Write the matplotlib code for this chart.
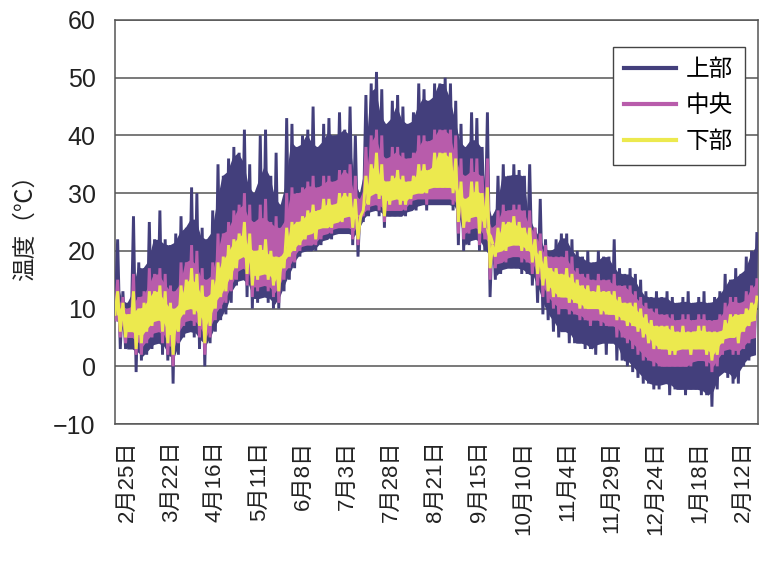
"""
Temperature record (upper / middle / lower), one year, 3-day envelopes
"""
import matplotlib
matplotlib.use('Agg')
import matplotlib.pyplot as plt
import numpy as np

plt.rcParams['font.family'] = ['Liberation Sans', 'Noto Sans CJK JP', 'DejaVu Sans']

# day index of each sample (every 3 days)
days = list(range(0, 366, 3))

# 上部 (upper) daily envelope
upper_hi = [22, 13, 11, 26, 18, 17, 25, 22, 27, 22, 21, 23, 26, 24, 31, 30, 24, 22, 27, 35,
            33, 36, 38, 37, 41, 35, 30, 40, 41, 33, 37, 28, 43, 42, 38, 40, 41, 45, 38, 42,
            43, 40, 44, 41, 45, 40, 30, 47, 49, 51, 48, 42, 46, 47, 45, 42, 44, 49, 48, 46,
            49, 49, 50, 49, 46, 42, 38, 44, 43, 38, 44, 26, 33, 35, 33, 35, 34, 33, 35, 24,
            29, 22, 20, 22, 23, 23, 22, 20, 19, 20, 18, 20, 19, 19, 22, 17, 16, 17, 16, 15,
            13, 12, 13, 12, 13, 12, 11, 12, 13, 11, 12, 13, 11, 12, 13, 16, 15, 17, 16, 19,
            20, 23]
upper_lo = [8, 3, 3, 3, -1, 1, 2, 3, 4, 2, 1, -3, 2, 5, 6, 5, 3, 0, 4, 6,
            8, 9, 11, 14, 15, 12, 10, 11, 12, 11, 10, 10, 13, 15, 17, 19, 20, 20, 20, 21,
            22, 22, 23, 23, 23, 21, 19, 25, 26, 27, 26, 24, 26, 26, 26, 26, 27, 27, 28, 27,
            28, 28, 28, 28, 27, 21, 20, 21, 22, 20, 20, 12, 15, 16, 17, 17, 17, 16, 16, 14,
            11, 9, 8, 6, 5, 6, 4, 4, 4, 3, 3, 2, 4, 2, 4, 1, 1, 0, -1, -2,
            -3, -3, -4, -4, -3, -5, -4, -4, -5, -4, -4, -5, -5, -7, -4, -1, -2, -3, -3, 0,
            1, 2]

# 中央 (middle)
middle_hi = [15, 12, 10, 16, 12, 13, 17, 16, 17, 16, 14, 13, 18, 18, 21, 20, 17, 15, 18, 23,
             23, 25, 27, 28, 30, 28, 25, 28, 29, 25, 26, 24, 30, 31, 30, 31, 32, 33, 31, 33,
             33, 32, 34, 34, 35, 33, 29, 38, 40, 41, 40, 36, 38, 38, 37, 36, 37, 40, 40, 39,
             41, 41, 41, 41, 40, 36, 33, 36, 36, 33, 36, 24, 27, 28, 27, 28, 28, 27, 27, 24,
             23, 21, 19, 19, 19, 20, 19, 17, 16, 16, 15, 16, 15, 15, 16, 14, 14, 14, 13, 12,
             11, 10, 10, 9, 9, 9, 8, 9, 9, 8, 9, 9, 8, 8, 9, 11, 12, 12, 11, 13,
             14, 15]
middle_lo = [8, 5, 4, 5, 2, 2, 4, 5, 6, 4, 2, 0, 4, 7, 8, 7, 5, 2, 5, 8,
             10, 11, 13, 15, 17, 14, 12, 13, 14, 13, 12, 11, 15, 17, 18, 20, 21, 21, 21, 22,
             23, 23, 24, 24, 24, 22, 21, 26, 27, 28, 27, 25, 27, 27, 27, 27, 28, 29, 29, 28,
             29, 29, 29, 29, 28, 23, 22, 23, 24, 21, 22, 15, 17, 18, 18, 19, 19, 18, 18, 16,
             14, 12, 11, 10, 9, 10, 9, 9, 8, 8, 7, 8, 7, 7, 7, 5, 5, 4, 3, 2,
             1, 1, 0, 0, 0, 0, 0, 0, 0, 0, 1, 1, 0, -1, 0, 2, 3, 2, 2, 3,
             4, 5]

# 下部 (lower)
lower_hi = [13, 11, 9, 13, 10, 11, 13, 13, 14, 13, 11, 10, 14, 15, 17, 16, 14, 12, 15, 18,
            19, 21, 22, 23, 25, 23, 20, 21, 22, 20, 19, 19, 24, 25, 25, 26, 27, 28, 27, 29,
            29, 28, 30, 30, 30, 29, 26, 33, 35, 37, 35, 32, 33, 34, 33, 32, 33, 35, 35, 34,
            37, 37, 37, 37, 36, 32, 29, 32, 32, 30, 31, 21, 24, 25, 25, 26, 25, 24, 24, 22,
            20, 19, 17, 17, 16, 17, 16, 15, 14, 14, 13, 14, 13, 13, 13, 12, 11, 11, 11, 10,
            9, 8, 7, 7, 7, 7, 6, 7, 6, 6, 7, 7, 6, 6, 6, 8, 9, 9, 9, 10,
            11, 12]
lower_lo = [9, 6, 5, 6, 3, 4, 6, 7, 8, 6, 4, 2, 6, 9, 10, 9, 7, 4, 7, 10,
            12, 13, 15, 17, 19, 16, 14, 15, 16, 15, 14, 13, 17, 19, 20, 21, 22, 23, 22, 24,
            24, 24, 25, 25, 26, 24, 22, 27, 28, 30, 29, 26, 28, 29, 28, 28, 29, 30, 30, 30,
            31, 31, 31, 31, 30, 25, 24, 25, 26, 23, 24, 17, 19, 20, 20, 21, 21, 20, 20, 18,
            16, 14, 13, 12, 12, 12, 11, 11, 10, 10, 10, 10, 9, 9, 9, 8, 8, 7, 7, 6,
            5, 4, 3, 3, 3, 2, 2, 3, 3, 2, 3, 3, 2, 1, 2, 4, 5, 5, 4, 6,
            7, 8]

tick_days = list(range(7, 366, 25))
tick_labels = ['2月25日', '3月22日', '4月16日', '5月11日', '6月8日', '7月3日', '7月28日',
               '8月21日', '9月15日', '10月10日', '11月4日', '11月29日', '12月24日',
               '1月18日', '2月12日']

series = [('上部', upper_lo, upper_hi, '#433f7c'),
          ('中央', middle_lo, middle_hi, '#b85cab'),
          ('下部', lower_lo, lower_hi, '#ece94e')]


def zigzag(d, lo, hi):
    # alternate daily minimum and maximum so the band looks like the hourly trace
    xs, ys = [], []
    for di, l, h in zip(d, lo, hi):
        xs += [di, di + 1.5]
        ys += [l, h]
    return np.array(xs), np.array(ys)


def core(vals, fn):
    # solid part of the band, somewhere between the 3-point and the pairwise envelope
    v = np.asarray(vals, dtype=float)
    p = np.pad(v, 1, mode='edge')
    three = fn(fn(p[:-2], p[1:-1]), p[2:])
    pair = 0.5 * (fn(p[:-2], p[1:-1]) + fn(p[1:-1], p[2:]))
    return 0.5 * (three + pair)


fig = plt.figure(figsize=(7.6, 5.68), dpi=100)
ax = fig.add_axes([0.1513, 0.2535, 0.8457, 0.7113])

for name, lo, hi, col in series:
    x, y = zigzag(days, lo, hi)
    ax.fill_between(np.array(days) + 0.75, core(lo, np.maximum), core(hi, np.minimum),
                    color=col, lw=0, zorder=3)
    ax.plot(x, y, color=col, lw=2.1, solid_joinstyle='miter', label=name, zorder=3)

ax.set_xlim(0, 365)
ax.set_ylim(-10, 60)
ax.set_yticks(range(-10, 61, 10))
ax.set_xticks(tick_days)
ax.set_xticklabels(tick_labels, rotation=90, fontsize=16)
ax.tick_params(axis='y', labelsize=18, length=0, pad=14, labelcolor='#222222')
ax.tick_params(axis='x', length=0, pad=12, labelcolor='#222222')
ax.yaxis.grid(True, color='#555555', lw=1.1)
ax.set_axisbelow(True)
for s in ax.spines.values():
    s.set_color('#555555')
    s.set_linewidth(1.1)
ax.set_ylabel('温度（℃）', fontsize=17, labelpad=12, color='#222222')

leg = ax.legend(loc='upper right', bbox_to_anchor=(0.98, 0.933), borderaxespad=0,
                fontsize=17, handlelength=2.2, fancybox=False, framealpha=1,
                edgecolor='#444444', borderpad=0.5, labelspacing=0.6,
                handletextpad=0.4)
for ln in leg.get_lines():
    ln.set_linewidth(3)

fig.savefig('out.png', dpi=100)
